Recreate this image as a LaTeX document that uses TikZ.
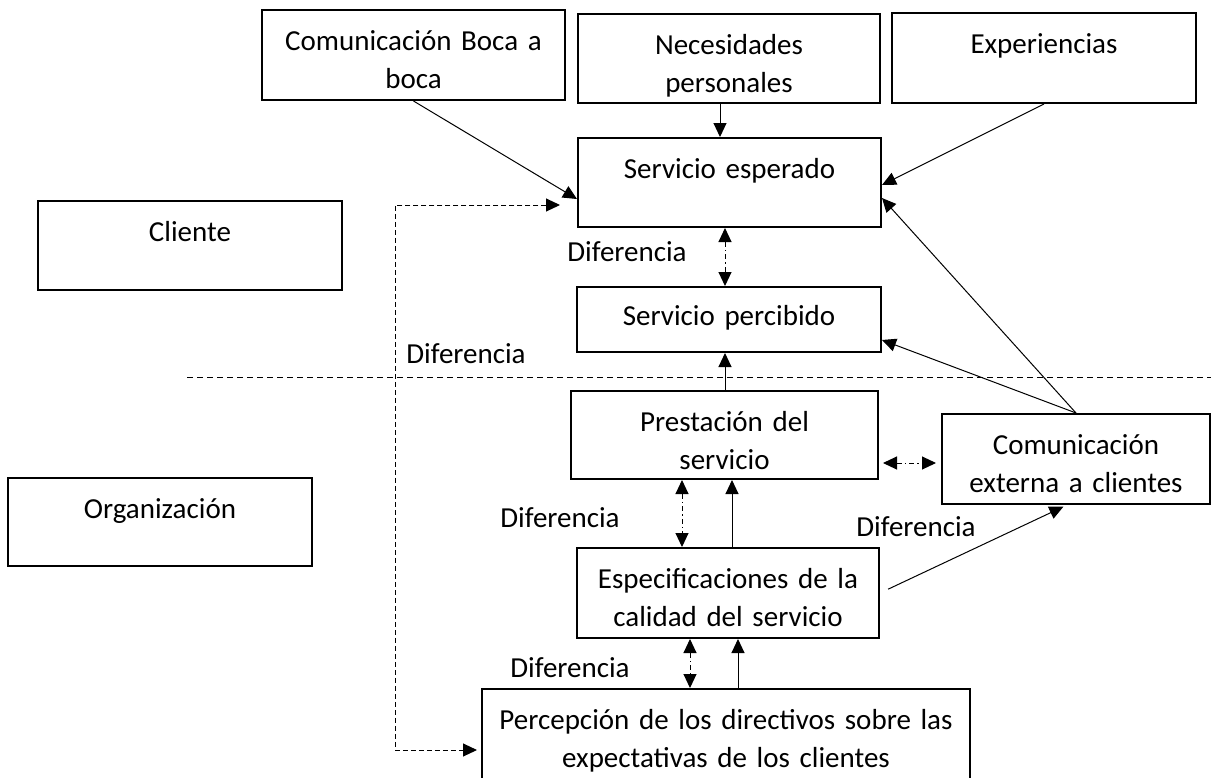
\documentclass[tikz,border=0pt]{standalone}
\usepackage{fontspec}
\setmainfont{Carlito}
\usetikzlibrary{positioning, calc, arrows.meta}

\newcommand{\diagfont}{\fontsize{29}{38}\selectfont}

\tikzset{
  box/.style={draw, line width=2pt, anchor=north, inner xsep=5pt, inner ysep=0pt,
    align=center, text height=40pt, font=\diagfont},
  lbl/.style={inner sep=0pt, font=\diagfont},
  flecha/.style={line width=1pt, -{Triangle[length=14pt, width=13pt]}},
  brecha/.style={line width=1pt, dash pattern=on 5pt off 3pt on 1.5pt off 3pt,
    {Triangle[length=14pt, width=13pt]}-{Triangle[length=14pt, width=13pt]}},
  retorno/.style={line width=1pt, dash pattern=on 5pt off 3pt,
    {Triangle[length=14pt, width=13pt]}-{Triangle[length=14pt, width=13pt]}},
  limite/.style={line width=1pt, dash pattern=on 6pt off 4pt}
}

\begin{document}
\begin{tikzpicture}[x=1pt, y=-1pt]
    \clip (0,0) rectangle (1211,777);

    % Cliente side
    \node[box, text width=293pt, text depth=50pt] (boca) at (413.5,9) {Comunicación Boca a\\boca};
    \node[box, text width=292pt, text depth=49pt] (nec) at (729,13) {Necesidades\\personales};
    \node[box, text width=294pt, text depth=50pt] (exp) at (1044,12) {Experiencias};
    \node[box, text width=294pt, text depth=49pt] (cliente) at (190,200) {Cliente};
    \node[box, text width=293pt, text depth=49pt] (se) at (729.5,137) {Servicio esperado};
    \node[box, text width=294pt, text height=38pt, text depth=27pt] (sp) at (729,286) {Servicio percibido};

    % Organizacion side
    \node[box, text width=297pt, text depth=48pt] (prest) at (724.5,390) {Prestación del\\servicio};
    \node[box, text width=258pt, text depth=50pt] (com) at (1076,413) {Comunicación\\externa a clientes};
    \node[box, text width=294pt, text depth=48pt] (org) at (160,477) {Organización};
    \node[box, text width=292pt, text depth=50pt] (espec) at (728,547) {Especificaciones de la\\calidad del servicio};
    \node[box, text width=478pt, text depth=70pt] (perc) at (726,688) {Percepción de los directivos sobre las\\expectativas de los clientes};

    % gap labels
    \node[lbl] (dif1) at (627,252) {Diferencia};
    \node[lbl] (dif2) at (466,354) {Diferencia};
    \node[lbl] (dif3) at (560,518) {Diferencia};
    \node[lbl] (dif4) at (916,527) {Diferencia};
    \node[lbl] (dif5) at (570,668) {Diferencia};

    % dividing line
    \draw[limite] (187,377) -- (1211,377);

    % inputs to expected service
    \draw[flecha] (boca.south) -- (se.west |- 0,199);
    \draw[flecha] (nec.south -| 720,0) -- (se.north -| 720,0);
    \draw[flecha] (exp.south) -- (se.east |- 0,185);
    \draw[flecha] (com.north) -- (se.east |- 0,198);
    \draw[flecha] (com.north) -- (sp.east |- 0,340);

    % vertical chain
    \draw[brecha] (se.south -| 725,0) -- (sp.north -| 725,0);
    \draw[flecha] (prest.north -| 725,0) -- (sp.south -| 725,0);
    \draw[brecha] (prest.south -| 682,0) -- (espec.north -| 682,0);
    \draw[flecha] (espec.north -| 732,0) -- (prest.south -| 732,0);
    \draw[brecha] (espec.south -| 690,0) -- (perc.north -| 690,0);
    \draw[flecha] (perc.north -| 738,0) -- (espec.south -| 738,0);
    \draw[brecha, shorten <=4pt, shorten >=5pt] (prest.east |- 0,463) -- (com.west |- 0,463);
    \draw[flecha, shorten <=9pt, shorten >=4pt] (espec.east |- 0,593) -- (com.south -| 1067,0);

    % feedback loop
    \coordinate (fb1) at (395,205);
    \coordinate (fb2) at (395,750);
    \draw[retorno, shorten <=17pt, shorten >=4pt] (se.west |- fb1) -- (fb1) -- (fb2) -- (perc.west |- fb2);
\end{tikzpicture}
\end{document}
